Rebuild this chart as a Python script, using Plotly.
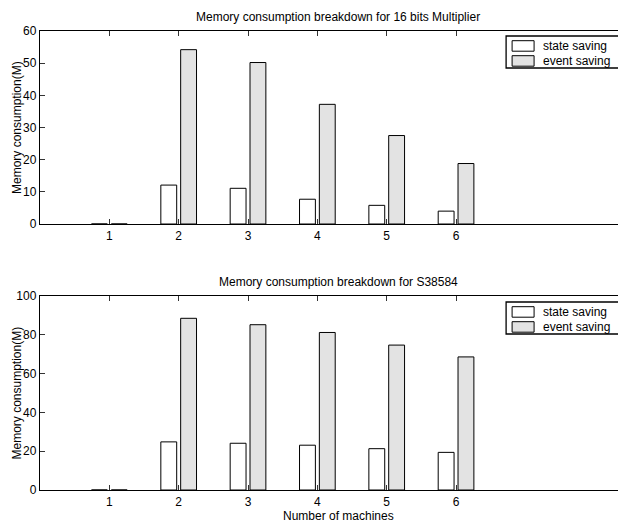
import plotly.graph_objects as go

# ---- data ----
machines = [1, 2, 3, 4, 5, 6]
x_ticks = [1, 2, 3, 4, 5, 6]
mult_state = [0, 12.1, 11.1, 7.7, 5.8, 4.0]
mult_event = [0, 54.2, 50.2, 37.2, 27.5, 18.8]
s_state = [0, 24.8, 24.1, 23.1, 21.3, 19.4]
s_event = [0, 88.5, 85.2, 81.2, 74.7, 68.6]
series_names = ["state saving", "event saving"]
title_top = "Memory consumption breakdown for 16 bits Multiplier"
title_bot = "Memory consumption breakdown for S38584"
y_label = "Memory consumption(M)"
x_label = "Number of machines"
yticks_top = [0, 10, 20, 30, 40, 50, 60]
yticks_bot = [0, 20, 40, 60, 80, 100]

# ---- geometry (page pixels; the page body adds an 8px offset) ----
OFF = 8
PAGE_W, PAGE_H = 626, 527
W, H = PAGE_W - OFF, PAGE_H - OFF
AX_LEFT, AX_RIGHT = 39.5, 626          # page x of axes
TOP1, BOT1 = 31, 224                    # page y of top axes
TOP2, BOT2 = 296, 490                   # page y of bottom axes
L = AX_LEFT - OFF
R = PAGE_W - AX_RIGHT
T = TOP1 - OFF
B = PAGE_H - BOT2
PW, PH = W - L - R, H - T - B
FONT = "Liberation Sans, Arial, Helvetica, sans-serif"
FS = 12
STATE_FILL = "#ffffff"
EVENT_FILL = "#e3e3e3"
UNIT = 69.4                             # px per machine on x


def px(x):
    return (x - OFF - L) / PW


def py(y):
    return (H - B - (y - OFF)) / PH


top_dom = [py(BOT1), 1.0]
bot_dom = [0.0, py(TOP2)]
xmax = (AX_RIGHT - AX_LEFT) / UNIT

fig = go.Figure()
for (st, ev, xa, ya) in [(mult_state, mult_event, "x", "y"), (s_state, s_event, "x2", "y2")]:
    fig.add_trace(go.Bar(x=machines, y=st, name=series_names[0], xaxis=xa, yaxis=ya,
                         marker=dict(color=STATE_FILL, line=dict(color="black", width=1)),
                         showlegend=False))
    fig.add_trace(go.Bar(x=machines, y=ev, name=series_names[1], xaxis=xa, yaxis=ya,
                         marker=dict(color=EVENT_FILL, line=dict(color="black", width=1)),
                         showlegend=False))

xcommon = dict(range=[0, xmax], tickmode="array", tickvals=x_ticks, ticks="inside", ticklen=5,
               tickwidth=1, tickcolor="#333", showline=True, linecolor="black", linewidth=1.4,
               mirror="ticks", showgrid=False, zeroline=False,
               tickfont=dict(family=FONT, size=FS, color="black"))
ycommon = dict(ticks="inside", ticklen=5, tickwidth=1, tickcolor="#333", showline=True,
               linecolor="black", linewidth=1.4, mirror=False, showgrid=False, zeroline=False,
               tickfont=dict(family=FONT, size=FS, color="black"))

fig.update_layout(
    width=W, height=H, margin=dict(l=L, r=R, t=T, b=B, pad=0),
    paper_bgcolor="white", plot_bgcolor="white",
    barmode="group", bargap=0.428, bargroupgap=0.2,
    showlegend=False,
    font=dict(family=FONT, size=FS, color="black"),
    xaxis=dict(domain=[0, 1], anchor="y", **xcommon),
    yaxis=dict(domain=top_dom, anchor="x", range=[0, 60], tickvals=yticks_top, **ycommon),
    xaxis2=dict(domain=[0, 1], anchor="y2", **xcommon),
    yaxis2=dict(domain=bot_dom, anchor="x2", range=[0, 100], tickvals=yticks_bot, **ycommon),
    yaxis3=dict(overlaying="y", side="right", anchor="x", range=[0, 60], tickvals=yticks_top,
                ticks="inside", ticklen=3, tickcolor="#333", showticklabels=False,
                showline=False, showgrid=False, zeroline=False),
    yaxis4=dict(overlaying="y2", side="right", anchor="x2", range=[0, 100], tickvals=yticks_bot,
                ticks="inside", ticklen=3, tickcolor="#333", showticklabels=False,
                showline=False, showgrid=False, zeroline=False),
)

# invisible helper traces so the right-side tick axes are drawn
fig.add_trace(go.Scatter(x=[None], y=[None], xaxis="x", yaxis="y3", showlegend=False, hoverinfo="skip"))
fig.add_trace(go.Scatter(x=[None], y=[None], xaxis="x2", yaxis="y4", showlegend=False, hoverinfo="skip"))

ann = []
shapes = []
xc = (AX_LEFT + 626) / 2
ann.append(dict(text=title_top, x=px(338), y=py(17), xref="paper", yref="paper",
                xanchor="center", yanchor="middle", showarrow=False, font=dict(size=FS)))
ann.append(dict(text=title_bot, x=px(338), y=py(282), xref="paper", yref="paper",
                xanchor="center", yanchor="middle", showarrow=False, font=dict(size=FS)))
ann.append(dict(text=x_label, x=px(338), y=py(516), xref="paper", yref="paper",
                xanchor="center", yanchor="middle", showarrow=False, font=dict(size=FS)))
for yc in [(TOP1 + BOT1) / 2, (TOP2 + BOT2) / 2]:
    ann.append(dict(text=y_label, x=px(16), y=py(yc), xref="paper", yref="paper",
                    xanchor="center", yanchor="middle", textangle=-90, showarrow=False,
                    font=dict(size=FS)))

# manual legends
for top in [TOP1 + 5, TOP2 + 6]:
    shapes.append(dict(type="rect", xref="paper", yref="paper", x0=px(506), x1=px(621),
                       y0=py(top), y1=py(top + 32), line=dict(color="black", width=1.3),
                       fillcolor="white", layer="above"))
    for i, (name, fill) in enumerate(zip(series_names, [STATE_FILL, EVENT_FILL])):
        y0 = top + 4.7 + i * 15
        shapes.append(dict(type="rect", xref="paper", yref="paper", x0=px(512), x1=px(534),
                           y0=py(y0), y1=py(y0 + 10.5), line=dict(color="black", width=1),
                           fillcolor=fill, layer="above"))
        ann.append(dict(text=name, x=px(540.5), y=py(y0 + 5.3), xref="paper", yref="paper",
                        xanchor="left", yanchor="middle", showarrow=False, font=dict(size=FS)))

fig.update_layout(annotations=ann, shapes=shapes)
fig.write_html("out.html")
